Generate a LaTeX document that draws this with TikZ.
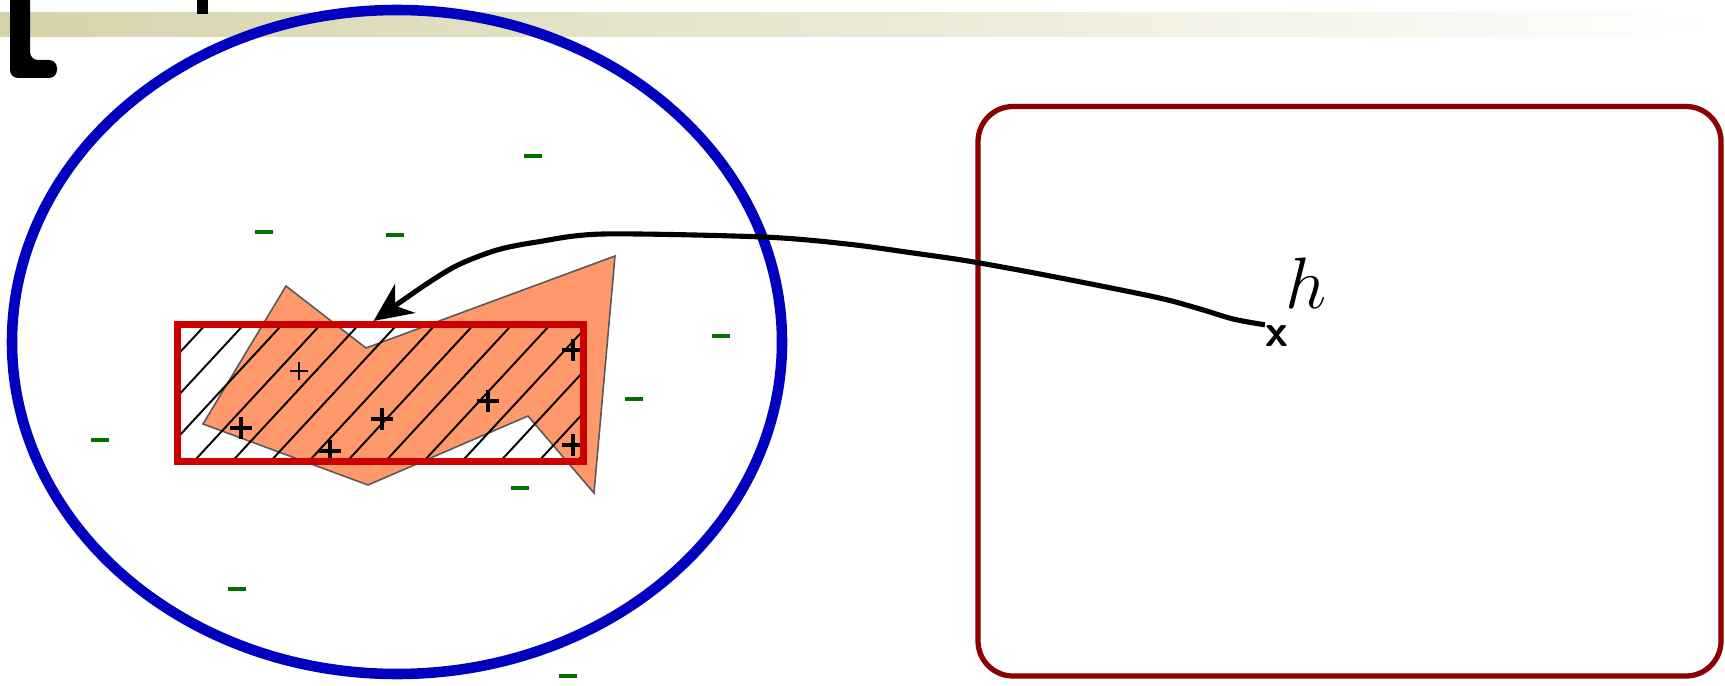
\documentclass[tikz,border=0pt]{standalone}
\usepackage{tikz}
\usetikzlibrary{arrows.meta}
\definecolor{ellblue}{RGB}{0,0,190}
\definecolor{boxred}{RGB}{204,0,0}
\definecolor{framered}{RGB}{140,0,0}
\definecolor{blob}{RGB}{255,153,108}
\definecolor{neggreen}{RGB}{0,112,0}
\definecolor{band}{RGB}{214,211,170}

\begin{document}
\begin{tikzpicture}[x=0.01cm,y=-0.01cm,
  plusmark/.style={line width=1.4pt},
  minusmark/.style={neggreen,line width=0.9pt},
  ar/.style={-{Stealth[length=11pt,width=10pt,inset=3.5pt]},line width=1.45pt}]
  \useasboundingbox (0,0) rectangle (1725,685);
  \shade[left color=band,right color=white] (0,13) rectangle (1725,37);
  \fill[rounded corners=0.08cm] (10,-20) -- (30,-20) -- (30,60) -- (57,60) -- (57,78) -- (10,78) -- cycle;
  \fill (197,-5) rectangle (208,14);
  \draw[ellblue,line width=3pt] (397,342) ellipse [x radius=385,y radius=332];
  \draw[framered,line width=1.5pt,rounded corners=0.35cm] (978,106.5) rectangle (1721,676);
  \filldraw[fill=blob,draw=black!65,line width=0.45pt] (286,286) -- (366,348) -- (615,256) -- (594,493) -- (528,416) -- (368,485) -- (203,424) -- cycle;
  \begin{scope}
    \clip (178,324.5) rectangle (583,461);
    \foreach \i in {0,...,15} \draw[line width=0.55pt] (41+38.3*\i,461) -- ++(250,-270);
  \end{scope}
  \foreach \x/\y in {241/428,330/451,382/419,488/401,573/350,573/445}
    \draw[plusmark] (\x-11,\y) -- (\x+11,\y) (\x,\y-11) -- (\x,\y+11);
  \draw[line width=0.4pt] (290,371) -- (308,371) (299,362) -- (299,380);
  \foreach \x/\y in {533/156,264/232,395/235,721/336,634/399,100/440,520/488,237/589,568/676}
    \draw[minusmark] (\x-9,\y) -- (\x+9,\y);
  \node[draw=boxred,line width=2pt,minimum width=4.05cm,minimum height=1.365cm,inner sep=0pt] (box) at (380.5,392.8) {};
  \node[font=\fontsize{13}{15}\selectfont\bfseries\sffamily,inner sep=0pt] (hx) at (1277,336) {x};
  \node[font=\fontsize{20.5}{24}\selectfont,inner sep=0pt] (hlab) at (1306,283) {$h$};
  \draw[ar] plot[smooth,tension=0.5] coordinates {(hx.north west) (1233,319) (1200,309) (1155,297) (1045,275) (968,261) (913,253) (847,244) (763,237) (603,234) (537,242) (497,250) (458,265) (425,285) ([xshift=-0.07cm]box.north)};
\end{tikzpicture}
\end{document}
